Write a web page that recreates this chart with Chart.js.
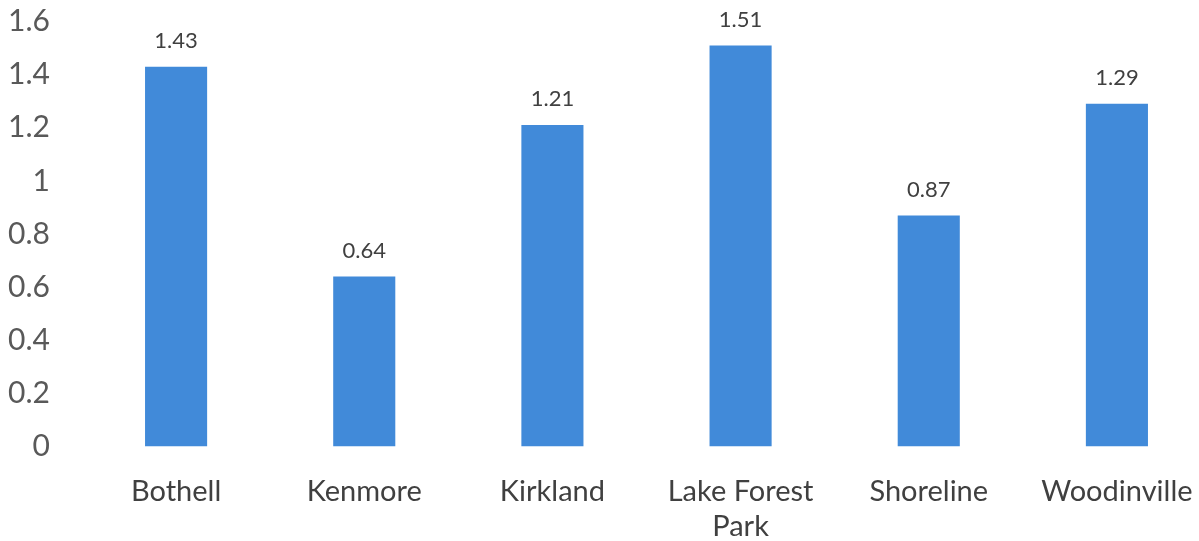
<!DOCTYPE html>
<html>
<head>
<meta charset="utf-8">
<script src="https://cdn.jsdelivr.net/npm/chart.js@4.4.1/dist/chart.umd.min.js"></script>
<style>
  html, body { margin: 0; padding: 0; background: #ffffff; overflow: hidden; }
  #wrap { position: relative; width: 1211px; height: 541px; }
</style>
</head>
<body>
<div id="wrap"><canvas id="chart"></canvas></div>
<script>
// Cities and their values
const cities = ['Bothell', 'Kenmore', 'Kirkland', ['Lake Forest', 'Park'], 'Shoreline', 'Woodinville'];
const values = [1.43, 0.64, 1.21, 1.51, 0.87, 1.29];
const yTicks = [0, 0.2, 0.4, 0.6, 0.8, 1, 1.2, 1.4, 1.6];

const FONT = 'Lato, "Open Sans", sans-serif';

// Writes each bar's value above it
const valueLabels = {
  id: 'valueLabels',
  afterDatasetsDraw(chart) {
    const ctx = chart.ctx;
    const meta = chart.getDatasetMeta(0);
    ctx.save();
    ctx.font = '22px ' + FONT;
    ctx.fillStyle = '#404040';
    ctx.textAlign = 'center';
    ctx.textBaseline = 'middle';
    meta.data.forEach((bar, i) => {
      ctx.fillText(values[i].toFixed(2), bar.x, bar.y - 26);
    });
    ctx.restore();
  }
};

new Chart(document.getElementById('chart'), {
  type: 'bar',
  data: {
    labels: cities,
    datasets: [{
      data: values,
      backgroundColor: '#418ad9',
      borderWidth: 0,
      categoryPercentage: 1,
      barPercentage: 0.33
    }]
  },
  options: {
    responsive: true,
    maintainAspectRatio: false,
    animation: false,
    layout: { padding: { top: 21.5, right: 0, bottom: 0, left: 0 } },
    plugins: {
      legend: { display: false },
      tooltip: { enabled: false }
    },
    scales: {
      x: {
        afterFit(axis) {
          axis.height = 94.5;
          axis.paddingLeft = 0;
          axis.paddingRight = 0;
        },
        grid: { display: false, drawTicks: false },
        border: { display: false },
        ticks: {
          font: { family: FONT, size: 29, lineHeight: 1.22 },
          color: '#404040',
          padding: 27,
          maxRotation: 0,
          autoSkip: false
        }
      },
      y: {
        min: 0,
        max: 1.6,
        afterBuildTicks(axis) { axis.ticks = yTicks.map(v => ({ value: v })); },
        afterFit(axis) {
          axis.width = 82;
          axis.paddingTop = 0;
          axis.paddingBottom = 0;
        },
        grid: { display: false, drawTicks: false },
        border: { display: false },
        ticks: {
          font: { family: FONT, size: 30, lineHeight: 1.2 },
          color: '#595959',
          padding: 32,
          callback: v => String(+Number(v).toFixed(1))
        }
      }
    }
  },
  plugins: [valueLabels]
});
</script>
</body>
</html>
